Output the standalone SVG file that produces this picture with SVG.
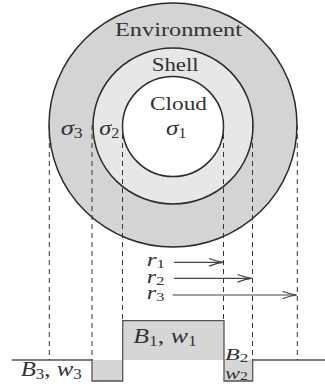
<svg xmlns="http://www.w3.org/2000/svg" width="325" height="387" viewBox="0 0 325 387">
  <defs>
    <style>
      .ring { stroke: #2a2a2a; stroke-width: 1.5; }
      .lbl { font-family: "Liberation Serif", "Times New Roman", serif; fill: #333; }
      .math { font-family: "Liberation Serif", "Times New Roman", serif; font-style: italic; fill: #333; }
      .up { font-style: normal; }
      .dash { stroke: #333; stroke-width: 1; stroke-dasharray: 5 4; fill: none; }
      .arrow { stroke: #444; stroke-width: 1.2; fill: none; marker-end: url(#ah); }
      .step { stroke: #555; stroke-width: 1.3; fill: none; }
      .bar { fill: #d6d6d6; }
    </style>
    <marker id="ah" viewBox="-15 -6 17 12" refX="0" refY="0" markerWidth="17" markerHeight="12" orient="auto" markerUnits="userSpaceOnUse">
      <path d="M-14,-3.8 Q-6,-0.8 0,0 Q-6,0.8 -14,3.8" fill="none" stroke="#444" stroke-width="1.2"/>
    </marker>
  </defs>
  <rect width="325" height="387" fill="#ffffff"/>

  <g id="environment">
    <ellipse class="ring" cx="173" cy="125" rx="124" ry="122" fill="#d4d4d4"/>
    <text class="lbl" x="115" y="36" font-size="19" textLength="127" lengthAdjust="spacingAndGlyphs">Environment</text>
  </g>
  <g id="shell">
    <ellipse class="ring" cx="173" cy="126" rx="80" ry="78" fill="#e7e7e7"/>
    <text class="lbl" x="151.7" y="71" font-size="19" textLength="47" lengthAdjust="spacingAndGlyphs">Shell</text>
  </g>
  <g id="cloud">
    <ellipse class="ring" cx="173" cy="126.5" rx="50.5" ry="50" fill="#ffffff"/>
    <text class="lbl" x="150" y="110" font-size="19" textLength="57" lengthAdjust="spacingAndGlyphs">Cloud</text>
  </g>

  <g id="step-plot">
    <rect class="bar" x="92" y="360" width="30.7" height="21"/>
    <rect class="bar" x="122.7" y="320.7" width="101.3" height="39.3"/>
    <rect class="bar" x="224" y="360" width="28.7" height="21"/>
    <path class="step" d="M11.7,360 H92 V381 H122.7 V320.7 H224 V381 H252.7 V360 H325"/>
  </g>

  <g id="connectors">
    <line class="dash" x1="49.3" y1="125" x2="49.3" y2="360"/>
    <line class="dash" x1="92" y1="125" x2="92" y2="360"/>
    <line class="dash" x1="122.5" y1="125" x2="122.5" y2="320.7"/>
    <line class="dash" x1="223.5" y1="125" x2="223.5" y2="320.7"/>
    <line class="dash" x1="252.5" y1="125" x2="252.5" y2="360"/>
    <line class="dash" x1="297.3" y1="125" x2="297.3" y2="360"/>
    <line class="arrow" x1="174" y1="262.3" x2="223" y2="262.3"/>
    <line class="arrow" x1="174" y1="278.3" x2="251.5" y2="278.3"/>
    <line class="arrow" x1="172.7" y1="295" x2="296.5" y2="295"/>
  </g>

  <g id="labels">
    <text class="math" x="60.7" y="134.5" font-size="21" textLength="22" lengthAdjust="spacingAndGlyphs">σ<tspan font-size="14" dy="3" class="up">3</tspan></text>
    <text class="math" x="99.3" y="134.5" font-size="21" textLength="20" lengthAdjust="spacingAndGlyphs">σ<tspan font-size="14" dy="3" class="up">2</tspan></text>
    <text class="math" x="166" y="134.5" font-size="21" textLength="20.7" lengthAdjust="spacingAndGlyphs">σ<tspan font-size="14" dy="3" class="up">1</tspan></text>

    <text class="math" x="146.7" y="266" font-size="18" textLength="18.3" lengthAdjust="spacingAndGlyphs">r<tspan font-size="12" dy="2" class="up">1</tspan></text>
    <text class="math" x="146.7" y="282.5" font-size="18" textLength="17.6" lengthAdjust="spacingAndGlyphs">r<tspan font-size="12" dy="2" class="up">2</tspan></text>
    <text class="math" x="146.7" y="299" font-size="18" textLength="17.6" lengthAdjust="spacingAndGlyphs">r<tspan font-size="12" dy="2" class="up">3</tspan></text>

    <text class="math" x="133.3" y="342.7" font-size="22" textLength="63.4" lengthAdjust="spacingAndGlyphs">B<tspan font-size="15" dy="3" class="up">1</tspan><tspan dy="-3" class="up">, </tspan>w<tspan font-size="15" dy="3" class="up">1</tspan></text>
    <text class="math" x="20.7" y="376" font-size="22" textLength="61" lengthAdjust="spacingAndGlyphs">B<tspan font-size="15" dy="3" class="up">3</tspan><tspan dy="-3" class="up">, </tspan>w<tspan font-size="15" dy="3" class="up">3</tspan></text>
    <text class="math" x="225" y="360" font-size="17" textLength="23.3" lengthAdjust="spacingAndGlyphs">B<tspan font-size="12" dy="1.5" class="up">2</tspan></text>
    <text class="math" x="225" y="378.5" font-size="17" textLength="23" lengthAdjust="spacingAndGlyphs">w<tspan font-size="12" dy="1.5" class="up">2</tspan></text>
  </g>
</svg>
